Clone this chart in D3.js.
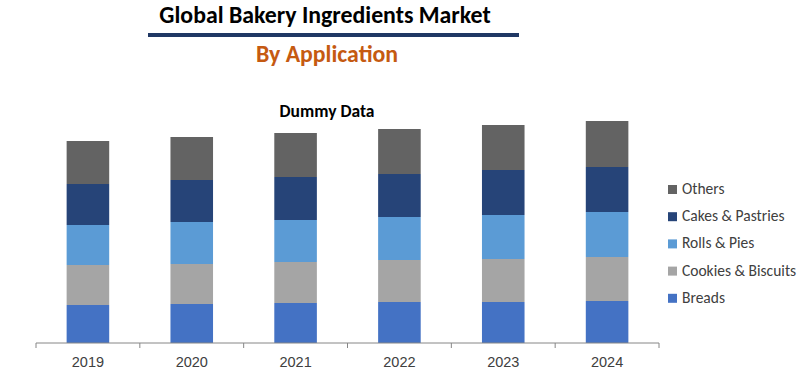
<!DOCTYPE html>
<html>
<head>
<meta charset="utf-8">
<script src="https://cdn.jsdelivr.net/npm/d3@7"></script>
<style>
  body { margin: 0; background: #fff; }
  svg { font-family: Carlito, Lato, "Open Sans", sans-serif; }
</style>
</head>
<body>
<div id="chart"></div>
<script>
//---------------------------DATA-------------------------------//
const years = ["2019", "2020", "2021", "2022", "2023", "2024"];
const segments = ["Breads", "Cookies & Biscuits", "Rolls & Pies", "Cakes & Pastries", "Others"];
const breads   = [38, 39, 40, 41, 41, 42];
const cookies  = [40, 40, 41, 42, 43, 44];
const rolls    = [40, 42, 42, 43, 44, 45];
const cakes    = [41, 42, 43, 43, 45, 45];
const others   = [43, 43, 44, 45, 45, 46];
const colors = ["#4472C4", "#A5A5A5", "#5B9BD5", "#264478", "#636363"];

//-------------------------SVG----------------------------------//
const width = 812;
const height = 390;
const svg = d3.select("#chart").append("svg")
    .attr("width", width)
    .attr("height", height);

const rows = years.map(function(y, i) {
    return {
        year: y,
        "Breads": breads[i],
        "Cookies & Biscuits": cookies[i],
        "Rolls & Pies": rolls[i],
        "Cakes & Pastries": cakes[i],
        "Others": others[i]
    };
});
const stacked = d3.stack().keys(segments)(rows);

//-------------------------SCALES-------------------------------//
const xScale = d3.scaleBand().domain(years).range([36, 659]).paddingInner(0.59).paddingOuter(0.295);
const yScale = d3.scaleLinear().domain([0, 250]).range([343, 93]);
const color = d3.scaleOrdinal().domain(segments).range(colors);

//-------------------------TITLES-------------------------------//
svg.append("text")
    .attr("x", 325).attr("y", 23)
    .attr("text-anchor", "middle")
    .style("font-size", "23.8px").style("font-weight", "bold")
    .text("Global Bakery Ingredients Market");

svg.append("line")
    .attr("x1", 148).attr("x2", 519)
    .attr("y1", 35).attr("y2", 35)
    .attr("stroke", "#203864").attr("stroke-width", 4);

svg.append("text")
    .attr("x", 327).attr("y", 62)
    .attr("text-anchor", "middle")
    .style("font-size", "23.8px").style("font-weight", "bold")
    .style("fill", "#C55A11")
    .text("By Application");

svg.append("text")
    .attr("x", 327).attr("y", 117)
    .attr("text-anchor", "middle")
    .style("font-size", "17.5px").style("font-weight", "bold")
    .text("Dummy Data");

//-------------------------BARS---------------------------------//
svg.selectAll("g.layer")
    .data(stacked)
    .enter().append("g")
    .attr("class", "layer")
    .attr("fill", function(d) { return color(d.key); })
    .selectAll("rect")
    .data(function(d) { return d; })
    .enter().append("rect")
    .attr("x", function(d) { return xScale(d.data.year); })
    .attr("width", xScale.bandwidth())
    .attr("y", function(d) { return yScale(d[1]); })
    .attr("height", function(d) { return yScale(d[0]) - yScale(d[1]); });

//-------------------------AXIS---------------------------------//
const xAxis = svg.append("g")
    .attr("transform", "translate(0,343)")
    .call(d3.axisBottom(xScale).tickSize(0).tickPadding(14));
xAxis.select(".domain").attr("stroke", "#868686").attr("d", "M36,0H659");
xAxis.selectAll("text").style("font-size", "14.5px").style("fill", "#404040");

// category separator ticks
const tickPos = d3.range(years.length + 1).map(function(i) { return 36 + i * (623 / years.length); });
xAxis.selectAll("line.sep")
    .data(tickPos)
    .enter().append("line")
    .attr("class", "sep")
    .attr("x1", function(d) { return d; }).attr("x2", function(d) { return d; })
    .attr("y1", 0).attr("y2", 5)
    .attr("stroke", "#868686");

//-------------------------LEGEND-------------------------------//
const legendItems = segments.slice().reverse();
const legend = svg.selectAll("g.legend")
    .data(legendItems)
    .enter().append("g")
    .attr("class", "legend")
    .attr("transform", function(d, i) { return "translate(668," + (185 + i * 27.2) + ")"; });

legend.append("rect")
    .attr("width", 9).attr("height", 9)
    .attr("fill", function(d) { return color(d); });

legend.append("text")
    .attr("x", 14).attr("y", 9)
    .style("font-size", "15.5px").style("fill", "#404040")
    .text(function(d) { return d; });
</script>
</body>
</html>
